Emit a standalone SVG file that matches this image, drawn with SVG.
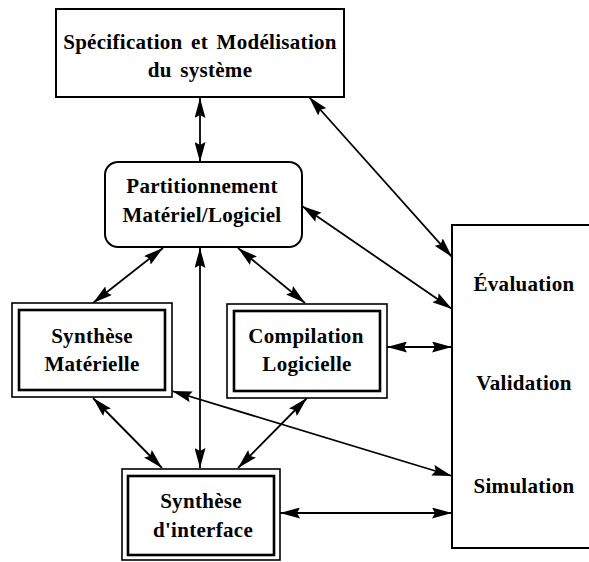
<svg xmlns="http://www.w3.org/2000/svg" width="589" height="562" viewBox="0 0 589 562">
  <style>
    .box { fill: #fff; stroke: #000; stroke-width: 2; }
    .outer { fill: #fff; stroke: #000; stroke-width: 1.6; }
    .inner { fill: none; stroke: #000; stroke-width: 2.6; }
    .lbl { font-family: "Liberation Serif", "DejaVu Serif", serif; font-weight: bold; font-size: 21px; letter-spacing: 0.3px; word-spacing: 3px; fill: #000; text-anchor: middle; }
    .conn { stroke: #000; stroke-width: 1.8; fill: none; marker-start: url(#arr); marker-end: url(#arr); }
  </style>
  <defs>
    <marker id="arr" viewBox="0 0 20 11" refX="20" refY="5.5" markerWidth="20" markerHeight="11" markerUnits="userSpaceOnUse" orient="auto-start-reverse">
      <path d="M0,0 L20,5.5 L0,11 L3,5.5 z" fill="#000"/>
    </marker>
  </defs>
  <rect width="589" height="562" fill="#fff"/>

  <!-- connectors -->
  <g id="connectors">
    <line class="conn" x1="200" y1="98" x2="200" y2="162"/>
    <line class="conn" x1="309" y1="97" x2="452" y2="257"/>
    <line class="conn" x1="302" y1="206" x2="452" y2="309"/>
    <line class="conn" x1="163" y1="248" x2="93" y2="303"/>
    <line class="conn" x1="238" y1="248" x2="305" y2="303"/>
    <line class="conn" x1="200" y1="248" x2="200" y2="468"/>
    <line class="conn" x1="387" y1="347" x2="452" y2="347"/>
    <line class="conn" x1="172" y1="391" x2="452" y2="476"/>
    <line class="conn" x1="93" y1="398" x2="162" y2="468"/>
    <line class="conn" x1="307" y1="398" x2="238" y2="468"/>
    <line class="conn" x1="280" y1="513" x2="452" y2="513"/>
  </g>

  <g id="specification">
    <rect class="box" x="56" y="9" width="288" height="88"/>
    <text class="lbl" x="200" y="49">Spécification et Modélisation</text>
    <text class="lbl" x="200" y="77">du système</text>
  </g>

  <g id="partitionnement">
    <rect class="box" x="105" y="162" width="197" height="85" rx="13"/>
    <text class="lbl" x="202" y="193">Partitionnement</text>
    <text class="lbl" x="202" y="222">Matériel/Logiciel</text>
  </g>

  <g id="synthese-materielle">
    <rect class="outer" x="12" y="303" width="160" height="94"/>
    <rect class="inner" x="19" y="310" width="146" height="80"/>
    <text class="lbl" x="92" y="343">Synthèse</text>
    <text class="lbl" x="92" y="371">Matérielle</text>
  </g>

  <g id="compilation-logicielle">
    <rect class="outer" x="227" y="304" width="160" height="94"/>
    <rect class="inner" x="234" y="311" width="146" height="80"/>
    <text class="lbl" x="306" y="343">Compilation</text>
    <text class="lbl" x="307" y="371">Logicielle</text>
  </g>

  <g id="synthese-interface">
    <rect class="outer" x="122" y="469" width="158" height="91"/>
    <rect class="inner" x="128" y="476" width="146" height="79"/>
    <text class="lbl" x="201" y="508">Synthèse</text>
    <text class="lbl" x="203" y="537">d'interface</text>
  </g>

  <g id="evaluation">
    <rect class="box" x="452" y="225" width="150" height="323"/>
    <text class="lbl" x="524" y="291">Évaluation</text>
    <text class="lbl" x="524" y="390">Validation</text>
    <text class="lbl" x="524" y="493">Simulation</text>
  </g>
</svg>
